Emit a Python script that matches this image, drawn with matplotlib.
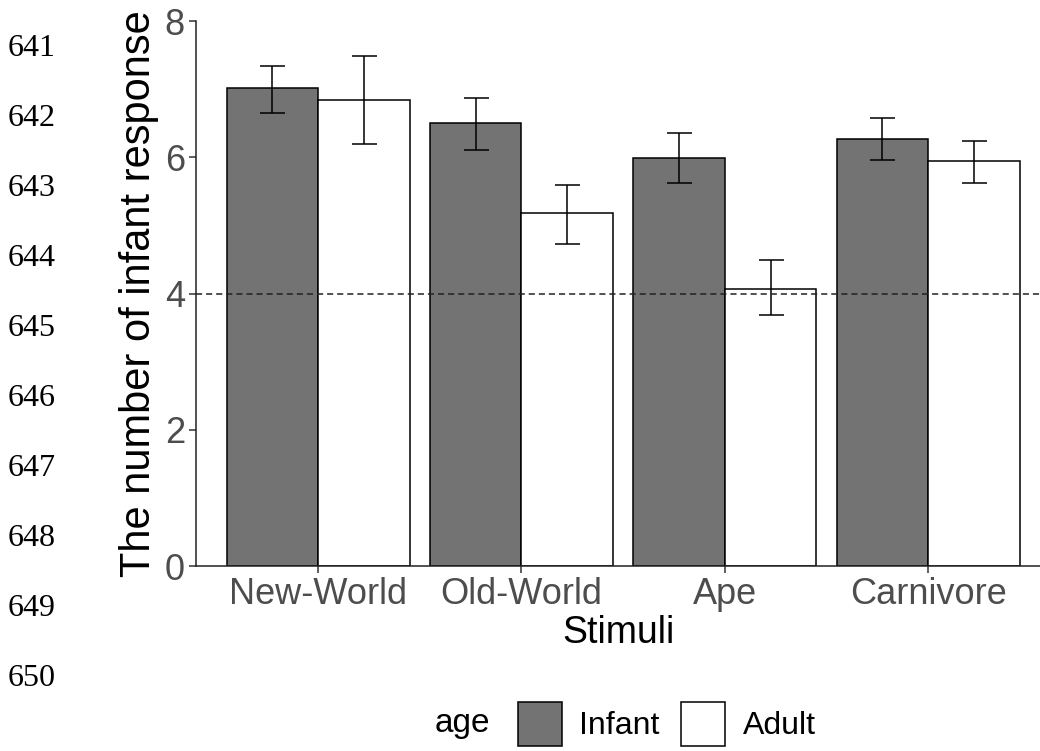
import numpy as np
import matplotlib
matplotlib.use('Agg')
import matplotlib.pyplot as plt
from matplotlib.patches import Patch

plt.rcParams['font.family'] = ['Liberation Sans', 'DejaVu Sans']

# data
stimuli = ['New-World', 'Old-World', 'Ape', 'Carnivore']
infant_mean = [7.02, 6.50, 5.99, 6.27]
infant_lo = [6.65, 6.11, 5.62, 5.96]
infant_hi = [7.34, 6.87, 6.36, 6.58]
adult_mean = [6.84, 5.18, 4.07, 5.94]
adult_lo = [6.20, 4.73, 3.68, 5.62]
adult_hi = [7.49, 5.59, 4.49, 6.24]
chance_level = 4
line_numbers = ['641', '642', '643', '644', '645', '646', '647', '648', '649', '650']

fig = plt.figure(figsize=(10.4, 7.51), dpi=100)
ax = fig.add_axes([0.1885, 0.2463, 0.8115, 0.7257])

x = np.arange(1, len(stimuli) + 1)
w = 0.45
infant_col = '#737373'

ax.bar(x - w/2, infant_mean, width=w, color=infant_col, edgecolor='black', linewidth=1.1, zorder=2)
ax.bar(x + w/2, adult_mean, width=w, color='white', edgecolor='black', linewidth=1.1, zorder=2)

inf_err = [np.array(infant_mean) - np.array(infant_lo), np.array(infant_hi) - np.array(infant_mean)]
ad_err = [np.array(adult_mean) - np.array(adult_lo), np.array(adult_hi) - np.array(adult_mean)]
ax.errorbar(x - w/2, infant_mean, yerr=inf_err, fmt='none', ecolor='black', elinewidth=1.1,
            capsize=9, capthick=1.1, zorder=3)
ax.errorbar(x + w/2, adult_mean, yerr=ad_err, fmt='none', ecolor='black', elinewidth=1.1,
            capsize=9, capthick=1.1, zorder=3)

ax.axhline(chance_level, color='#222222', linestyle=(0, (4, 2.6)), linewidth=1.1, zorder=4)

ax.set_xlim(0.4, 4.55)
ax.set_ylim(0, 8)
ax.set_yticks([0, 2, 4, 6, 8])
ax.set_xticks(x)
ax.set_xticklabels(stimuli)
for s in ['top', 'right']:
    ax.spines[s].set_visible(False)
for s in ['left', 'bottom']:
    ax.spines[s].set_linewidth(1.1)
    ax.spines[s].set_color('#222222')
ax.tick_params(axis='both', labelsize=26, labelcolor='#4D4D4D', length=5, width=1.1,
               color='#333333', pad=3)
ax.set_xlabel('Stimuli', fontsize=27, labelpad=2)
ax.set_ylabel('The number of infant response', fontsize=30, labelpad=4)

# legend
fig.text(0.418, 0.036, 'age', fontsize=24, ha='left', va='center')
handles = [Patch(facecolor=infant_col, edgecolor='black', linewidth=1.1, label='Infant'),
           Patch(facecolor='white', edgecolor='black', linewidth=1.1, label='Adult')]
fig.legend(handles=handles, loc='center left', bbox_to_anchor=(0.4976, 0.036), ncol=2,
           frameon=False, fontsize=23, handlelength=1.38, handleheight=1.7,
           handletextpad=0.56, columnspacing=0.66, borderpad=0, borderaxespad=0)

# manuscript line numbers
for i, lab in enumerate(line_numbers):
    fig.text(0.007, 1 - (48 + i * 70.1) / 751, lab, fontsize=23, family='Liberation Serif',
             ha='left', va='center')

fig.savefig('out.png', dpi=100)
